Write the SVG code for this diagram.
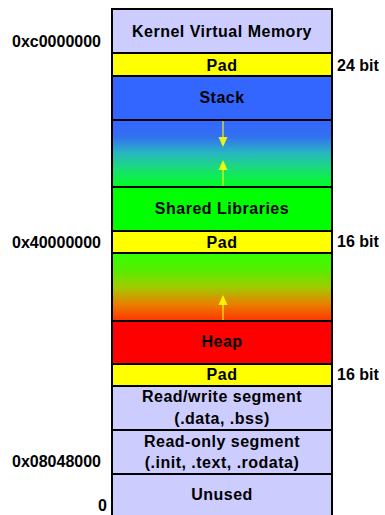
<svg xmlns="http://www.w3.org/2000/svg" width="385" height="515" viewBox="0 0 385 515">
  <defs>
    <linearGradient id="gradStackGap" x1="0" y1="0" x2="0" y2="1">
      <stop offset="0" stop-color="#3366ff"/>
      <stop offset="0.25" stop-color="#3370f0"/>
      <stop offset="0.5" stop-color="#28b8c0"/>
      <stop offset="0.75" stop-color="#18e070"/>
      <stop offset="1" stop-color="#00ff22"/>
    </linearGradient>
    <linearGradient id="gradHeapGap" x1="0" y1="0" x2="0" y2="1">
      <stop offset="0" stop-color="#33ff00"/>
      <stop offset="0.25" stop-color="#55ee00"/>
      <stop offset="0.5" stop-color="#a0cc00"/>
      <stop offset="0.75" stop-color="#e88000"/>
      <stop offset="1" stop-color="#ff3300"/>
    </linearGradient>
  </defs>
  <style>
    .seg { stroke: #000; stroke-width: 2; }
    .lbl { font-family: "Liberation Sans", Arial, sans-serif; font-weight: bold; font-size: 16px; fill: #000; letter-spacing: 0.5px; text-anchor: middle; }
    .addr { font-family: "Liberation Sans", Arial, sans-serif; font-weight: bold; font-size: 16px; fill: #000; text-anchor: end; }
    .bits { font-family: "Liberation Sans", Arial, sans-serif; font-weight: bold; font-size: 16px; fill: #000; text-anchor: start; }
    .arrow-line { stroke: #ffff00; stroke-width: 2; stroke-opacity: 0.55; }
    .arrow-head { fill: #ffff00; fill-opacity: 0.9; }
  </style>
  <rect width="385" height="515" fill="#ffffff"/>

  <g id="kernel">
    <rect class="seg" x="112" y="9" width="220" height="44" fill="#ccccff"/>
    <text class="lbl" x="222" y="37">Kernel Virtual Memory</text>
  </g>
  <g id="pad-top">
    <rect class="seg" x="112" y="53" width="220" height="23" fill="#ffff00"/>
    <text class="lbl" x="222" y="71">Pad</text>
  </g>
  <g id="stack">
    <rect class="seg" x="112" y="76" width="220" height="44" fill="#3366ff"/>
    <text class="lbl" x="222" y="103">Stack</text>
  </g>
  <g id="stack-gap">
    <rect class="seg" x="112" y="120" width="220" height="67" fill="url(#gradStackGap)"/>
  </g>
  <g id="shared-libraries">
    <rect class="seg" x="112" y="187" width="220" height="44" fill="#00ff00"/>
    <text class="lbl" x="222" y="214">Shared Libraries</text>
  </g>
  <g id="pad-mid">
    <rect class="seg" x="112" y="231" width="220" height="22" fill="#ffff00"/>
    <text class="lbl" x="222" y="248">Pad</text>
  </g>
  <g id="heap-gap">
    <rect class="seg" x="112" y="253" width="220" height="68" fill="url(#gradHeapGap)"/>
  </g>
  <g id="heap">
    <rect class="seg" x="112" y="321" width="220" height="43" fill="#ff0000"/>
    <text class="lbl" x="222" y="347">Heap</text>
  </g>
  <g id="pad-low">
    <rect class="seg" x="112" y="364" width="220" height="22" fill="#ffff00"/>
    <text class="lbl" x="222" y="380">Pad</text>
  </g>
  <g id="rw-segment">
    <rect class="seg" x="112" y="386" width="220" height="44" fill="#ccccff"/>
    <text class="lbl" x="222" y="402">Read/write segment</text>
    <text class="lbl" x="222" y="424">(.data, .bss)</text>
  </g>
  <g id="ro-segment">
    <rect class="seg" x="112" y="430" width="220" height="44" fill="#ccccff"/>
    <text class="lbl" x="222" y="447">Read-only segment</text>
    <text class="lbl" x="222" y="468">(.init, .text, .rodata)</text>
  </g>
  <g id="unused">
    <rect class="seg" x="112" y="474" width="220" height="50" fill="#ccccff"/>
    <text class="lbl" x="222" y="500">Unused</text>
  </g>

  <!-- growth arrows -->
  <g id="connectors">
    <line class="arrow-line" x1="223" y1="121" x2="223" y2="138"/>
    <polygon class="arrow-head" points="218.5,137 227.5,137 223,147"/>
    <line class="arrow-line" x1="223" y1="169" x2="223" y2="186"/>
    <polygon class="arrow-head" points="218.5,170 227.5,170 223,160"/>
    <line class="arrow-line" x1="223" y1="304" x2="223" y2="320"/>
    <polygon class="arrow-head" points="218.5,305 227.5,305 223,295"/>
  </g>

  <!-- addresses -->
  <g id="addresses">
    <text class="addr" x="101" y="47">0xc0000000</text>
    <text class="addr" x="101" y="248">0x40000000</text>
    <text class="addr" x="101" y="467">0x08048000</text>
    <text class="addr" x="107" y="511">0</text>
  </g>

  <!-- padding sizes -->
  <g id="pad-sizes">
    <text class="bits" x="337" y="71">24 bit</text>
    <text class="bits" x="337" y="247">16 bit</text>
    <text class="bits" x="337" y="380">16 bit</text>
  </g>
</svg>
